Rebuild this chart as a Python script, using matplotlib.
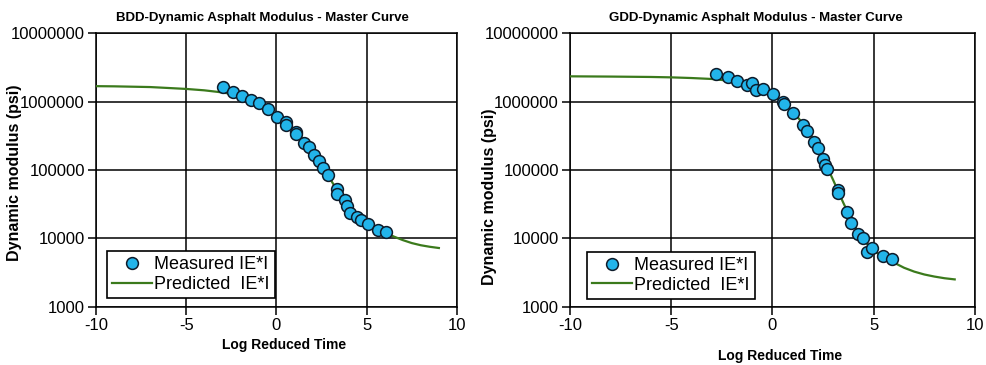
import matplotlib
matplotlib.use('Agg')

import matplotlib.pyplot as plt
import numpy as np
from matplotlib.ticker import FixedLocator, FixedFormatter

plt.rcParams['font.family'] = ['Liberation Sans Narrow', 'Liberation Sans', 'DejaVu Sans']
plt.rcParams['axes.unicode_minus'] = False

# BDD - measured |E*| (log reduced time, psi)
bdd_meas_t = [-2.95, -2.39, -1.93, -1.41, -0.97, -0.45, 0.01, 0.53, 0.55, 1.06, 1.08,
              1.54, 1.80, 2.08, 2.34, 2.59, 2.84, 3.34, 3.36, 3.78, 3.89, 4.07,
              4.44, 4.66, 5.09, 5.64, 6.07]
bdd_meas_e = [1.62e6, 1.36e6, 1.22e6, 1.05e6, 9.6e5, 7.7e5, 6.0e5, 5.1e5, 4.5e5, 3.6e5, 3.3e5,
              2.49e5, 2.13e5, 1.68e5, 1.34e5, 1.05e5, 8.4e4, 5.3e4, 4.5e4, 3.6e4, 2.97e4, 2.37e4,
              2.05e4, 1.83e4, 1.64e4, 1.31e4, 1.23e4]

# BDD - predicted master curve
bdd_pred_t = [-10, -9, -8, -7, -6, -5, -4, -3, -2.5, -2, -1.5, -1, -0.5, 0, 0.5, 1, 1.5,
              2, 2.5, 3, 3.5, 4, 4.5, 5, 5.5, 6, 6.5, 7, 7.5, 8, 8.5, 9]
bdd_pred_e = [1.68e6, 1.67e6, 1.65e6, 1.63e6, 1.58e6, 1.53e6, 1.46e6, 1.36e6, 1.29e6, 1.19e6,
              1.07e6, 9.4e5, 7.8e5, 6.3e5, 4.95e5, 3.75e5, 2.75e5, 1.95e5, 1.2e5, 7.2e4,
              4.4e4, 2.8e4, 2.05e4, 1.62e4, 1.4e4, 1.23e4, 1.06e4, 9.4e3, 8.5e3, 7.9e3, 7.5e3, 7.2e3]

# GDD - measured |E*|
gdd_meas_t = [-2.80, -2.21, -1.75, -1.27, -1.01, -0.81, -0.49, 0.04, 0.50, 0.57, 1.03,
              1.52, 1.72, 2.05, 2.23, 2.51, 2.62, 2.67, 3.25, 3.25, 3.70, 3.88,
              4.24, 4.45, 4.68, 4.90, 5.45, 5.92]
gdd_meas_e = [2.54e6, 2.32e6, 2.02e6, 1.75e6, 1.89e6, 1.48e6, 1.51e6, 1.28e6, 1.0e6, 9.1e5, 6.9e5,
              4.6e5, 3.7e5, 2.57e5, 2.09e5, 1.43e5, 1.17e5, 1.02e5, 5.1e4, 4.6e4, 2.45e4, 1.7e4,
              1.17e4, 1.0e4, 6.3e3, 7.1e3, 5.5e3, 4.9e3]

# GDD - predicted master curve
gdd_pred_t = [-10, -8, -6, -5, -4, -3, -2.5, -2, -1.5, -1, -0.5, 0, 0.5, 1, 1.5, 2, 2.5,
              3, 3.5, 4, 4.5, 5, 5.5, 6, 6.5, 7, 7.5, 8, 8.5, 9]
gdd_pred_e = [2.34e6, 2.32e6, 2.29e6, 2.26e6, 2.21e6, 2.14e6, 2.07e6, 1.97e6, 1.82e6, 1.66e6,
              1.45e6, 1.23e6, 9.8e5, 7.2e5, 4.8e5, 2.85e5, 1.48e5, 7.1e4, 3.3e4, 1.6e4,
              9.3e3, 6.6e3, 5.2e3, 4.4e3, 3.7e3, 3.25e3, 2.95e3, 2.75e3, 2.6e3, 2.5e3]

y_ticks = [1000, 10000, 100000, 1000000, 10000000]
y_tick_labels = ['1000', '10000', '100000', '1000000', '10000000']
x_ticks = [-10, -5, 0, 5, 10]

fig = plt.figure(figsize=(9.86, 3.65), dpi=100)

panels = [
    dict(rect=[0.0974, 0.160, 0.366, 0.749],
         title='BDD-Dynamic Asphalt Modulus - Master Curve',
         mt=bdd_meas_t, me=bdd_meas_e, pt=bdd_pred_t, pe=bdd_pred_e,
         title_x=0.46, xlab_y=-0.115, ylab=(-0.205, 0.49), leg=(0.03, 0.03)),
    dict(rect=[0.578, 0.160, 0.4108, 0.749],
         title='GDD-Dynamic Asphalt Modulus - Master Curve',
         mt=gdd_meas_t, me=gdd_meas_e, pt=gdd_pred_t, pe=gdd_pred_e,
         title_x=0.46, xlab_y=-0.155, ylab=(-0.18, 0.40), leg=(0.042, 0.027)),
]

for p in panels:
    ax = fig.add_axes(p['rect'])
    ax.set_yscale('log')
    ax.plot(p['pt'], p['pe'], color='#3b7a1c', lw=1.6, zorder=3,
            label='Predicted  IE*I')
    ax.plot(p['mt'], p['me'], 'o', ms=8.5, mfc='#22b4ea', mec='#0d1b2a', mew=1.1,
            zorder=4, label='Measured IE*I')

    ax.set_xlim(-10, 10)
    ax.set_ylim(1000, 10000000)
    ax.xaxis.set_major_locator(FixedLocator(x_ticks))
    ax.yaxis.set_major_locator(FixedLocator(y_ticks))
    ax.yaxis.set_major_formatter(FixedFormatter(y_tick_labels))
    ax.yaxis.set_minor_locator(FixedLocator([]))
    ax.tick_params(axis='both', which='major', labelsize=12, length=6, width=1.1,
                   direction='out', color='black', pad=2)
    ax.grid(True, which='major', color='black', lw=1.1)
    for s in ax.spines.values():
        s.set_color('black')
        s.set_linewidth(1.1)

    ax.set_title(p['title'], fontsize=9.5, fontweight='bold', x=p['title_x'], pad=9)
    ax.set_xlabel('Log Reduced Time', fontsize=10, fontweight='bold')
    ax.xaxis.set_label_coords(0.52, p['xlab_y'])
    ax.set_ylabel('Dynamic modulus (psi)', fontsize=11.5, fontweight='bold')
    ax.yaxis.set_label_coords(*p['ylab'])

    h, l = ax.get_legend_handles_labels()
    leg = ax.legend(h[::-1], l[::-1], loc='lower left', bbox_to_anchor=p['leg'],
                    fontsize=13, frameon=True, fancybox=False, edgecolor='black',
                    framealpha=1, borderpad=0.3, handlelength=2.2, handletextpad=0.1,
                    labelspacing=0.15, borderaxespad=0)
    leg.get_frame().set_linewidth(1.2)
    leg.set_zorder(5)

plt.savefig('out.png', dpi=100)
plt.close()
